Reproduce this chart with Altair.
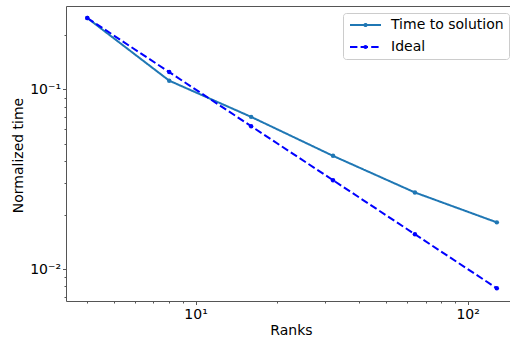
import altair as alt
import pandas as pd

ranks = [4, 8, 16, 32, 64, 128]
time_to_solution = [0.25, 0.112, 0.0704, 0.0427, 0.0267, 0.0182]
ideal = [0.25, 0.125, 0.0625, 0.03125, 0.015625, 0.0078125]
series_names = ["Time to solution", "Ideal"]

x_ticks = [4, 5, 6, 7, 8, 9, 10, 20, 30, 40, 50, 60, 70, 80, 90, 100]
y_ticks = [0.007, 0.008, 0.009, 0.01, 0.02, 0.03, 0.04, 0.05, 0.06, 0.07,
           0.08, 0.09, 0.1, 0.2]

rows = []
for r, v in zip(ranks, time_to_solution):
    rows.append({"Ranks": r, "value": v, "series": series_names[0]})
for r, v in zip(ranks, ideal):
    rows.append({"Ranks": r, "value": v, "series": series_names[1]})
df = pd.DataFrame(rows)

FONT = "DejaVu Sans"
AX = "#555555"

x_scale = alt.Scale(type="log", domain=[3.34, 143.1], nice=False, zero=False)
y_scale = alt.Scale(type="log", domain=[0.00664, 0.2917], nice=False, zero=False)

x_major = "datum.value === 10 || datum.value === 100"
y_major = "datum.value === 0.1 || datum.value === 0.01"

x_axis = alt.Axis(
    values=x_ticks, grid=False, title="Ranks",
    labelExpr="datum.value === 10 ? '10¹' : datum.value === 100 ? '10²' : ''",
    tickSize={"condition": {"test": x_major, "value": 3.5}, "value": 2},
    tickColor=AX, domainColor=AX, domainWidth=1, tickWidth=1,
    labelFont=FONT, labelFontSize=14, labelColor="black", labelPadding=3,
    labelOverlap=False, labelFlush=False,
    titleFont=FONT, titleFontSize=14, titleFontWeight="normal", titleColor="black",
    titleX=225, titleY=29, titleBaseline="middle", titleAlign="center",
)
y_axis = alt.Axis(
    values=y_ticks, grid=False, title="Normalized time",
    labelExpr="datum.value === 0.1 ? '10⁻¹' : datum.value === 0.01 ? '10⁻²' : ''",
    tickSize={"condition": {"test": y_major, "value": 3.5}, "value": 2},
    tickColor=AX, domainColor=AX, domainWidth=1, tickWidth=1,
    labelFont=FONT, labelFontSize=14, labelColor="black", labelPadding=2,
    labelOverlap=False, labelFlush=False,
    titleFont=FONT, titleFontSize=14, titleFontWeight="normal", titleColor="black",
    titleX=-48, titleY=149, titleAngle=270, titleBaseline="middle", titleAlign="center",
)

# symbol drawn 31px wide from a 10px nominal symbol (r = 5)
legend = alt.Legend(
    title=None, orient="none", legendX=277, legendY=7,
    symbolType="M1.88,0A0.22,0.22 0 1,1 2.32,0A0.22,0.22 0 1,1 1.88,0M-1,0L5.2,0",
    symbolSize=100, symbolStrokeWidth=2,
    labelFont=FONT, labelFontSize=14, labelColor="black", labelOffset=29,
    rowPadding=8, padding=5,
    strokeColor="#cccccc", fillColor="rgba(255,255,255,0.8)", cornerRadius=3,
)

color = alt.Color("series:N", scale=alt.Scale(domain=series_names, range=["#1f77b4", "#0000ff"]),
                  legend=legend)
dash = alt.StrokeDash("series:N", scale=alt.Scale(domain=series_names, range=[[1, 0], [7.4, 3.2]]),
                      legend=legend)

lines = alt.Chart(df).mark_line(strokeWidth=2, point=alt.OverlayMarkDef(filled=True, size=20)).encode(
    x=alt.X("Ranks:Q", scale=x_scale, axis=x_axis),
    y=alt.Y("value:Q", scale=y_scale, axis=y_axis),
    color=color,
    strokeDash=dash,
    order=alt.Order("Ranks:Q"),
)

top_frame = alt.Chart(df).mark_line(opacity=0).encode(
    x=alt.X("Ranks:Q", scale=x_scale,
            axis=alt.Axis(orient="top", labels=False, ticks=False, title=None, grid=False,
                          domainColor=AX, domainWidth=1)),
    y=alt.Y("value:Q", scale=y_scale),
    detail="series:N",
)

chart = alt.layer(lines, top_frame).resolve_axis(x="independent").properties(
    width=444, height=295,
    autosize=alt.AutoSizeParams(type="none"),
    padding={"left": 66, "top": 6, "right": 0, "bottom": 40},
    background="white",
).configure_view(stroke=None)

chart.save("out.html", embed_options={"renderer": "svg", "actions": False})
